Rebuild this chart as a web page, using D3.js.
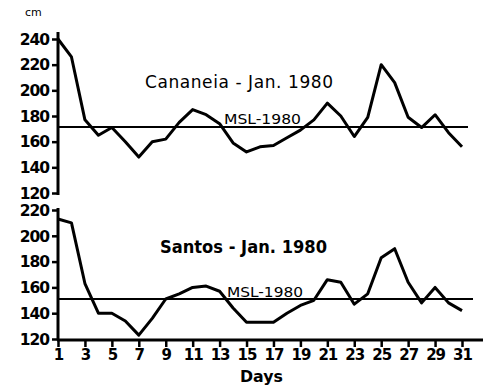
<!DOCTYPE html>
<html><head><meta charset="utf-8">
<script src="https://cdn.jsdelivr.net/npm/d3@7"></script>
<style>body{margin:0;background:#fff}svg{display:block}</style>
</head><body>
<svg id="c" width="493" height="390"></svg>
<script>
const days = d3.range(1, 32);
const cananeia = [240,226,177,165,171,160,148,160,162,175,185,181,174,159,152,156,157,163,169,177,190,180,164,179,220,206,179,171,181,167,156];
const santos = [213,210,163,140,140,134,123,136,151,155,160,161,157,144,133,133,133,140,146,150,166,164,147,155,183,190,164,148,160,148,142];
const mslCananeia = 171.5;
const mslSantos = 151;
const topTicks = [120,140,160,180,200,220,240];
const botTicks = [120,140,160,180,200,220];
const xTicks = d3.range(1, 32, 2);
const titles = ["Cananeia - Jan. 1980", "Santos - Jan. 1980"];
const mslLabel = "MSL-1980";

const svg = d3.select("#c");
const font = "'DejaVu Sans', sans-serif";
const x = d3.scaleLinear().domain([1,31]).range([58,462]);
const yT = d3.scaleLinear().domain([120,240]).range([193,39]);
const yB = d3.scaleLinear().domain([120,220]).range([339,210]);

function yAxis(scale, ticks, top, bottom) {
  const g = svg.append("g").attr("transform","translate(58,0)")
    .call(d3.axisLeft(scale).tickValues(ticks).tickSize(6).tickPadding(3));
  g.select(".domain").remove();
  g.selectAll(".tick line").attr("stroke","#000").attr("stroke-width",2.5);
  g.selectAll(".tick text").attr("font-family",font).attr("font-size",15.5).attr("font-weight","bold")
    .attr("fill","#000").attr("letter-spacing","-1").attr("dy","0.34em");
  svg.append("line").attr("x1",58).attr("x2",58).attr("y1",top).attr("y2",bottom)
    .attr("stroke","#000").attr("stroke-width",3);
}
yAxis(yT, topTicks, yT(240)-7, yT(120)+2);
yAxis(yB, botTicks, yB(220)-2, yB(120)+1.5);

// x axis
const gx = svg.append("g").attr("transform",`translate(0,${yB(120)+1})`)
  .call(d3.axisBottom(x).tickValues(xTicks).tickSize(7).tickPadding(2));
gx.select(".domain").remove();
gx.selectAll(".tick line").attr("stroke","#000").attr("stroke-width",2.5);
gx.selectAll(".tick text").attr("font-family",font).attr("font-size",15).attr("font-weight","bold")
  .attr("fill","#000").attr("letter-spacing","-1");
svg.append("line").attr("x1",57).attr("x2",483).attr("y1",yB(120)+1).attr("y2",yB(120)+1)
  .attr("stroke","#000").attr("stroke-width",3);

// MSL lines
svg.append("line").attr("x1",58).attr("x2",468).attr("y1",yT(mslCananeia)).attr("y2",yT(mslCananeia))
  .attr("stroke","#000").attr("stroke-width",2);
svg.append("line").attr("x1",58).attr("x2",473).attr("y1",yB(mslSantos)).attr("y2",yB(mslSantos))
  .attr("stroke","#000").attr("stroke-width",2);

// series
const lineT = d3.line().x((d,i)=>x(days[i])).y(d=>yT(d));
const lineB = d3.line().x((d,i)=>x(days[i])).y(d=>yB(d));
svg.append("path").attr("d",lineT(cananeia)).attr("fill","none").attr("stroke","#000").attr("stroke-width",3).attr("stroke-linejoin","round");
svg.append("path").attr("d",lineB(santos)).attr("fill","none").attr("stroke","#000").attr("stroke-width",3).attr("stroke-linejoin","round");

// texts
svg.append("text").attr("x",25).attr("y",16).attr("font-family",font).attr("font-size",11).text("cm");
svg.append("text").attr("x",145).attr("y",88).attr("font-family",font).attr("font-size",17)
  .attr("textLength",188).attr("lengthAdjust","spacing").text(titles[0]);
svg.append("text").attr("x",160).attr("y",253).attr("font-family",font).attr("font-size",17).attr("font-weight","bold")
  .attr("textLength",167).attr("lengthAdjust","spacingAndGlyphs").text(titles[1]);
svg.append("text").attr("x",224).attr("y",124).attr("font-family",font).attr("font-size",14)
  .attr("textLength",77).attr("lengthAdjust","spacingAndGlyphs").text(mslLabel);
svg.append("text").attr("x",227).attr("y",297).attr("font-family",font).attr("font-size",14)
  .attr("textLength",76).attr("lengthAdjust","spacingAndGlyphs").text(mslLabel);
svg.append("text").attr("x",240).attr("y",382).attr("font-family",font).attr("font-size",15).attr("font-weight","bold")
  .attr("textLength",43).attr("lengthAdjust","spacingAndGlyphs").text("Days");
</script>
</body></html>
